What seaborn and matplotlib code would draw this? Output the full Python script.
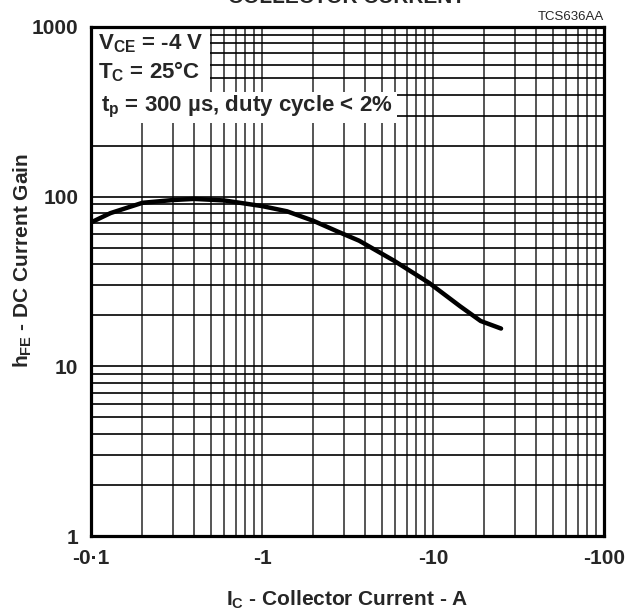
import numpy as np
import pandas as pd
import matplotlib
matplotlib.use("Agg")
import matplotlib.pyplot as plt
import matplotlib.ticker as mticker
from matplotlib.patches import Rectangle
import seaborn as sns

# Curve (magnitudes of I_C, the axis is labelled negative)
ic = [0.1, 0.13, 0.2, 0.3, 0.4, 0.6, 1.0, 1.4, 2.0, 2.8, 3.7, 5.9, 9.5, 14.4, 19.0, 25.0]
hfe = [70.5, 80, 92, 95.5, 97, 95, 88, 82, 72, 62, 55, 42, 31, 22.6, 18.5, 16.7]

x_ticks = [0.1, 1, 10, 100]
x_labels = ["-0·1", "-1", "-10", "-100"]
y_ticks = [1, 10, 100, 1000]
y_labels = ["1", "10", "100", "1000"]

df = pd.DataFrame({"ic": ic, "hfe": hfe})

sns.set_style("white")
plt.rcParams["font.family"] = ["Liberation Sans", "DejaVu Sans"]
plt.rcParams["mathtext.fontset"] = "custom"
plt.rcParams["mathtext.rm"] = "Liberation Sans:bold"
plt.rcParams["mathtext.bf"] = "Liberation Sans:bold"
plt.rcParams["mathtext.it"] = "Liberation Sans:bold"

fig = plt.figure(figsize=(6.26, 6.16), dpi=100)
ax = fig.add_axes([91 / 626, 1 - 536 / 616, 513 / 626, 509 / 616])

ax.set_xscale("log")
ax.set_yscale("log")
ax.set_xlim(0.1, 100)
ax.set_ylim(1, 1000)

sns.lineplot(data=df, x="ic", y="hfe", ax=ax, color="black", linewidth=3.2, zorder=4)

ax.xaxis.set_major_locator(mticker.FixedLocator(x_ticks))
ax.xaxis.set_major_formatter(mticker.FixedFormatter(x_labels))
ax.yaxis.set_major_locator(mticker.FixedLocator(y_ticks))
ax.yaxis.set_major_formatter(mticker.FixedFormatter(y_labels))
ax.xaxis.set_minor_locator(mticker.LogLocator(base=10, subs=range(2, 10)))
ax.yaxis.set_minor_locator(mticker.LogLocator(base=10, subs=range(2, 10)))
ax.xaxis.set_minor_formatter(mticker.NullFormatter())
ax.yaxis.set_minor_formatter(mticker.NullFormatter())

ax.set_axisbelow(True)
ax.grid(True, which="both", axis="x", color="#555555", linewidth=1.4)
ax.grid(True, which="both", axis="y", color="black", linewidth=1.2)
ax.tick_params(which="both", length=0)
ax.tick_params(axis="x", pad=9, labelsize=15)
ax.tick_params(axis="y", pad=9, labelsize=15)
for lab in ax.get_xticklabels() + ax.get_yticklabels():
    lab.set_fontweight("bold")

for s in ax.spines.values():
    s.set_linewidth(2.3)
    s.set_color("black")

ax.set_xlabel(r"I$_{\mathrm{C}}$ - Collector Current - A", fontsize=15, fontweight="bold", labelpad=15)
ax.set_ylabel(r"h$_{\mathrm{FE}}$ - DC Current Gain", fontsize=15, fontweight="bold")
ax.yaxis.set_label_coords(-57 / 513, 0.542)

# white boxes behind the test-condition notes
ax.add_patch(Rectangle((0, 0.872), 0.232, 0.128, transform=ax.transAxes,
                       facecolor="white", edgecolor="none", zorder=2))
ax.add_patch(Rectangle((0, 0.811), 0.596, 0.062, transform=ax.transAxes,
                       facecolor="white", edgecolor="none", zorder=2))
ax.text(0.013, 0.967, r"V$_{\mathrm{CE}}$ = -4 V", transform=ax.transAxes,
        fontsize=16, fontweight="bold", va="center", ha="left", zorder=3)
ax.text(0.013, 0.912, r"T$_{\mathrm{C}}$ = 25°C", transform=ax.transAxes,
        fontsize=16, fontweight="bold", va="center", ha="left", zorder=3)
ax.text(0.020, 0.843, r"t$_{\mathrm{p}}$ = 300 µs, duty cycle < 2%", transform=ax.transAxes,
        fontsize=16, fontweight="bold", va="center", ha="left", zorder=3)

fig.text(347 / 626, 1 - 3 / 616, "COLLECTOR CURRENT", fontsize=15, fontweight="bold",
         ha="center", va="baseline")
fig.text(604 / 626, 1 - 20 / 616, "TCS636AA", fontsize=9.5, ha="right", va="baseline")

fig.savefig("out.png", dpi=100)
